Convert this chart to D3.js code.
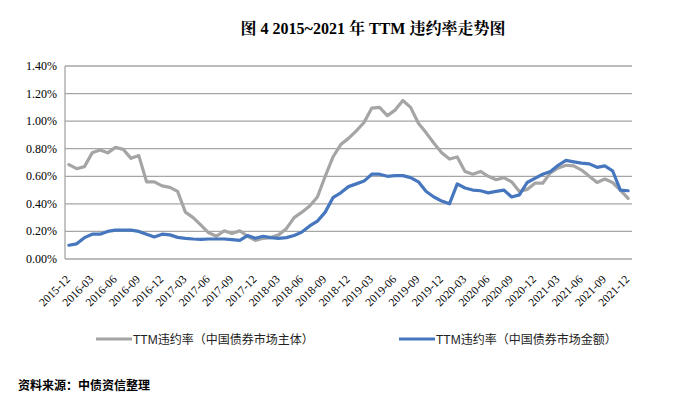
<!DOCTYPE html>
<html>
<head>
<meta charset="utf-8">
<script src="https://cdn.jsdelivr.net/npm/d3@7"></script>
<style>
html,body{margin:0;padding:0;background:#fff;}
svg{display:block;}
</style>
</head>
<body>
<svg id="chart" width="700" height="411"></svg>
<script>
const categories = [
"2015-12","2016-01","2016-02","2016-03","2016-04","2016-05","2016-06","2016-07","2016-08","2016-09","2016-10","2016-11","2016-12",
"2017-01","2017-02","2017-03","2017-04","2017-05","2017-06","2017-07","2017-08","2017-09","2017-10","2017-11","2017-12",
"2018-01","2018-02","2018-03","2018-04","2018-05","2018-06","2018-07","2018-08","2018-09","2018-10","2018-11","2018-12",
"2019-01","2019-02","2019-03","2019-04","2019-05","2019-06","2019-07","2019-08","2019-09","2019-10","2019-11","2019-12",
"2020-01","2020-02","2020-03","2020-04","2020-05","2020-06","2020-07","2020-08","2020-09","2020-10","2020-11","2020-12",
"2021-01","2021-02","2021-03","2021-04","2021-05","2021-06","2021-07","2021-08","2021-09","2021-10","2021-11","2021-12"];

// TTM违约率（中国债券市场主体）, %
const issuerRate = [
0.685,0.655,0.67,0.77,0.79,0.77,0.81,0.795,0.73,0.75,0.56,0.56,0.53,
0.52,0.49,0.34,0.30,0.245,0.19,0.165,0.205,0.185,0.205,0.165,0.135,
0.15,0.155,0.175,0.22,0.30,0.34,0.385,0.45,0.60,0.74,0.83,0.875,
0.93,0.99,1.095,1.10,1.04,1.08,1.15,1.10,0.985,0.915,0.84,0.77,
0.725,0.74,0.635,0.615,0.635,0.60,0.575,0.59,0.56,0.49,0.505,0.55,
0.55,0.625,0.66,0.68,0.675,0.645,0.60,0.555,0.58,0.555,0.50,0.44];

// TTM违约率（中国债券市场金额）, %
const amountRate = [
0.10,0.11,0.155,0.18,0.18,0.20,0.21,0.21,0.21,0.20,0.18,0.16,0.18,
0.175,0.157,0.15,0.145,0.143,0.145,0.145,0.145,0.14,0.135,0.17,0.15,
0.165,0.155,0.15,0.155,0.17,0.195,0.24,0.275,0.34,0.445,0.48,0.525,
0.545,0.565,0.615,0.615,0.60,0.605,0.605,0.59,0.56,0.49,0.45,0.42,
0.40,0.545,0.515,0.50,0.495,0.48,0.49,0.50,0.45,0.465,0.555,0.585,
0.615,0.635,0.68,0.715,0.705,0.695,0.69,0.665,0.675,0.64,0.50,0.495];

const yTicks = [0,0.2,0.4,0.6,0.8,1.0,1.2,1.4];
const xTickLabels = categories.filter((d,i)=> i % 3 === 0);

const seriesNames = ["TTM违约率（中国债券市场主体）","TTM违约率（中国债券市场金额）"];
const seriesColors = ["#A5A5A5","#4677BE"];
const titleText = "图 4 2015~2021 年 TTM 违约率走势图";
const sourceText = "资料来源：中债资信整理";

(function(){
const svg = d3.select("#chart");
const pLeft = 65, pRight = 632, pTop = 66, pBottom = 259;

const x = d3.scaleBand().domain(categories).range([pLeft, pRight]).padding(0);
const cx = d => x(d) + x.bandwidth()/2;
const y = d3.scaleLinear().domain([0,1.4]).range([pBottom, pTop]);

const serif = "'Liberation Serif','Times New Roman','Noto Serif CJK SC','Noto Sans CJK SC',serif";
const sans = "'Liberation Sans',Arial,'Noto Sans CJK SC',sans-serif";

// title
svg.append("text")
  .attr("x", 373).attr("y", 34)
  .attr("text-anchor","middle")
  .attr("font-family", serif)
  .attr("font-weight","bold")
  .attr("font-size", 16)
  .attr("fill","#000")
  .text(titleText);

// gridlines
svg.append("g").selectAll("line").data(yTicks).join("line")
  .attr("x1", pLeft).attr("x2", pRight)
  .attr("y1", d=>y(d)).attr("y2", d=>y(d))
  .attr("stroke","#A6A6A6").attr("stroke-width",1.3);

// y axis line
svg.append("line").attr("x1",pLeft).attr("x2",pLeft).attr("y1",pTop).attr("y2",pBottom)
  .attr("stroke","#A6A6A6").attr("stroke-width",1.3);

// y labels
svg.append("g").selectAll("text").data(yTicks).join("text")
  .attr("x", 57).attr("y", d=>y(d)+4)
  .attr("text-anchor","end")
  .attr("font-family", serif)
  .attr("font-size", 12)
  .attr("fill","#000")
  .text(d=>d3.format(".2f")(d)+"%");

// x labels
svg.append("g").selectAll("text").data(xTickLabels).join("text")
  .attr("transform", d=>`translate(${cx(d)+2},280) rotate(-45)`)
  .attr("text-anchor","end")
  .attr("font-family", serif)
  .attr("font-size", 11.5)
  .attr("fill","#000")
  .text(d=>d);

// lines
const line = d3.line().x((d,i)=>cx(categories[i])).y(d=>y(d)).curve(d3.curveLinear);
[issuerRate, amountRate].forEach((s,k)=>{
  svg.append("path").datum(s)
    .attr("d", line)
    .attr("fill","none")
    .attr("stroke", seriesColors[k])
    .attr("stroke-width", 3.2)
    .attr("stroke-linejoin","round")
    .attr("stroke-linecap","round");
});

// legend
const legendX = [96, 399];
seriesNames.forEach((n,k)=>{
  svg.append("line")
    .attr("x1", legendX[k]).attr("x2", legendX[k]+36)
    .attr("y1", 339).attr("y2", 339)
    .attr("stroke", seriesColors[k]).attr("stroke-width", 3.2);
  svg.append("text")
    .attr("x", legendX[k]+37).attr("y", 343.5)
    .attr("font-family", sans)
    .attr("font-size", 12)
    .attr("fill","#222")
    .text(n);
});

// source
svg.append("text")
  .attr("x", 18).attr("y", 390)
  .attr("font-family", "'Noto Sans CJK SC',sans-serif")
  .attr("font-weight","bold")
  .attr("font-size", 12)
  .attr("fill","#000")
  .text(sourceText);
})();
</script>
</body>
</html>
